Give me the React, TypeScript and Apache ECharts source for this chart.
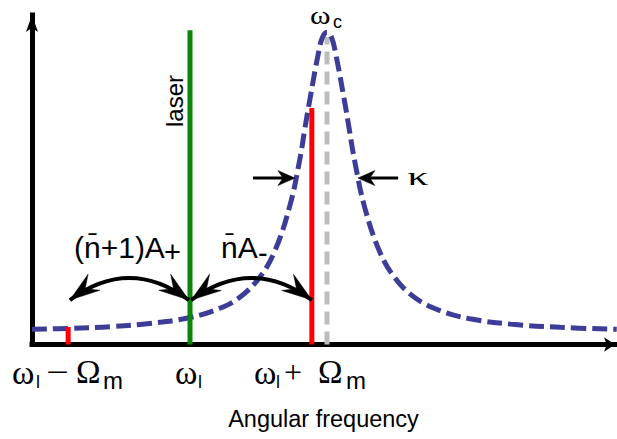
import React, { useEffect, useRef } from 'react';
import * as echarts from 'echarts';

// Cavity (Lorentzian) response: frequency (arb. units) vs. response (arb. units)
const frequency = [0, 6.5, 13.4, 20.2, 27.1, 32.2, 35.7, 39.1, 41.7, 44.3, 46.0, 46.8, 47.7, 49.1, 49.8, 50.6, 51.4, 52.1, 53.7, 54.4, 55.4, 57.1, 59.7, 62.3, 65.7, 70.0, 75.1, 82.0, 90.6, 100.3];
const response = [4.6, 4.9, 5.4, 6.4, 8.2, 11.0, 14.4, 20.5, 28.6, 42.6, 56.8, 65.5, 74.7, 88.2, 93.1, 94.8, 93.1, 88.2, 72.9, 65.5, 55.2, 41.4, 27.9, 20.1, 14.2, 10.3, 7.8, 6.2, 5.2, 4.6];

// Vertical markers: lower sideband, laser, upper sideband, cavity resonance
const markerNames = ['ωl − Ωm', 'ωl', 'ωl + Ωm', 'ωc'];
const markerFrequency = [6.2, 27.1, 48.0, 50.6];
const markerHeight = [5.3, 95.4, 71.8, 93.3];

// Annotation arrows (data coordinates)
const scatterArrowY = 13.5;
const scatterArrowX = [[6.5, 26.9], [27.3, 48.0]];
const kappaArrowY = 50.5;
const kappaArrowX = [[37.9, 45.1], [62.8, 55.9]];

const SERIF = '"Liberation Serif", "Times New Roman", serif';
const SANS = '"Liberation Sans", Arial, Helvetica, sans-serif';

function txt(text: string, x: number, y: number, size: number, family: string, extra: any = {}) {
  const { align, lineHeight, ...rest } = extra;
  const style: any = {
    text,
    fontSize: size,
    fontFamily: family,
    fill: '#000',
    align: align || 'left',
    textAlign: align || 'left',
    verticalAlign: 'middle',
    textVerticalAlign: 'middle',
  };
  if (lineHeight) style.lineHeight = lineHeight;
  return { type: 'text', x, y, silent: true, z: 100, ...rest, style };
}

export default function App() {
  const ref = useRef<HTMLDivElement>(null);

  useEffect(() => {
    const chart = echarts.init(ref.current!, null, { renderer: 'svg' });

    const vline = (i: number, color: string, dashed: boolean, z: number) => ({
      type: 'line',
      name: markerNames[i],
      data: [
        [markerFrequency[i], 0],
        [markerFrequency[i], markerHeight[i]],
      ],
      showSymbol: false,
      symbol: 'none',
      silent: true,
      z,
      lineStyle: { color, width: 5, type: dashed ? [13, 7] : 'solid', cap: 'butt' },
    });

    chart.setOption({
      animation: false,
      grid: { left: 32, right: 2, top: 15, bottom: 94.5, containLabel: false, outerBoundsMode: 'none' },
      xAxis: {
        type: 'value',
        min: 0,
        max: 100,
        name: 'Angular frequency',
        nameLocation: 'middle',
        nameGap: 62,
        nameTextStyle: { fontFamily: SANS, fontSize: 23.5, color: '#000' },
        axisLine: {
          show: true,
          symbol: ['none', 'arrow'],
          symbolSize: [11, 11],
          lineStyle: { color: '#000', width: 5, cap: 'square' },
        },
        axisTick: { show: false },
        axisLabel: { show: false },
        splitLine: { show: false },
      },
      yAxis: {
        type: 'value',
        min: 0,
        max: 100,
        axisLine: {
          show: true,
          symbol: ['none', 'arrow'],
          symbolSize: [9, 17],
          lineStyle: { color: '#000', width: 5, cap: 'square' },
        },
        axisTick: { show: false },
        axisLabel: { show: false },
        splitLine: { show: false },
      },
      series: [
        vline(3, '#bdbdbd', true, 1),
        {
          type: 'line',
          name: 'cavity',
          data: frequency.map((f, i) => [f, response[i]]),
          smooth: 0.4,
          showSymbol: false,
          symbol: 'none',
          clip: false,
          silent: true,
          z: 2,
          lineStyle: { color: '#3d3d99', width: 5, type: [15, 6], cap: 'butt' },
        },
        vline(1, '#0a870a', false, 3),
        vline(0, '#ff0000', false, 3),
        vline(2, '#ff0000', false, 3),
      ],
    });

    const px = (x: number, y: number) => chart.convertToPixel({ gridIndex: 0 }, [x, y]) as number[];

    const head = (tip: number[], from: number[], L: number, W: number, N: number) => {
      const dx = from[0] - tip[0];
      const dy = from[1] - tip[1];
      const len = Math.hypot(dx, dy);
      const ux = dx / len;
      const uy = dy / len;
      const nx = -uy;
      const ny = ux;
      return {
        type: 'polygon',
        silent: true,
        z: 50,
        shape: {
          points: [
            [tip[0], tip[1]],
            [tip[0] + L * ux + W * nx, tip[1] + L * uy + W * ny],
            [tip[0] + N * ux, tip[1] + N * uy],
            [tip[0] + L * ux - W * nx, tip[1] + L * uy - W * ny],
          ],
        },
        style: { fill: '#000', stroke: '#000', lineWidth: 0.5 },
      };
    };

    const elements: any[] = [];

    // curved double arrows
    scatterArrowX.forEach(([a, b]) => {
      const p0 = px(a, scatterArrowY);
      const p2 = px(b, scatterArrowY);
      const bulge = 22;
      const c = [(p0[0] + p2[0]) / 2, (p0[1] + p2[1]) / 2 - 2 * bulge];
      elements.push({
        type: 'bezierCurve',
        silent: true,
        z: 49,
        shape: { x1: p0[0], y1: p0[1], x2: p2[0], y2: p2[1], cpx1: c[0], cpy1: c[1] },
        style: { stroke: '#000', lineWidth: 4, fill: 'none' },
      });
      elements.push(head(p0, c, 30, 10, 19));
      elements.push(head(p2, c, 30, 10, 19));
    });

    // kappa arrows
    kappaArrowX.forEach(([tail, tip]) => {
      const pt = px(tail, kappaArrowY);
      const pp = px(tip, kappaArrowY);
      elements.push({
        type: 'line',
        silent: true,
        z: 49,
        shape: { x1: pt[0], y1: pt[1], x2: pp[0] - Math.sign(pp[0] - pt[0]) * 8, y2: pp[1] },
        style: { stroke: '#000', lineWidth: 3 },
      });
      elements.push(head(pp, pt, 17, 7.5, 12));
    });

    // labels
    elements.push(
      // omega_c
      txt('ω', 310, 14.5, 26, SERIF, { scaleX: 1.2 }),
      txt('c', 333, 22, 18, SANS),
      // laser
      txt('laser', 174, 101, 24, SANS, { rotation: Math.PI / 2, align: 'center' }),
      // (n+1)A+
      txt('(n\u0304+1)A', 74, 247, 30, SANS),
      txt('+', 164, 251.5, 29, SANS),
      // nA-
      txt('n\u0304A', 221, 247, 30, SANS),
      txt('-', 258, 253, 29, SANS),
      // kappa
      txt('κ', 418, 176, 26, SERIF, { align: 'center', scaleX: 1.6 }),
      // omega_l - Omega_m
      txt('ω', 12, 372, 34, SERIF),
      txt('l', 36, 382, 18, SANS),
      txt('−', 46, 372, 32, SERIF, { scaleX: 1.25 }),
      txt('Ω', 76, 372, 33, SERIF),
      txt('m', 103, 380, 24, SANS),
      // omega_l
      txt('ω', 175, 372, 34, SERIF),
      txt('l', 198, 382, 18, SANS),
      // omega_l + Omega_m
      txt('ω', 254, 372, 34, SERIF),
      txt('l', 276, 382, 18, SANS),
      txt('+', 284, 372, 32, SERIF),
      txt('Ω', 318, 372, 33, SERIF),
      txt('m', 346, 380, 24, SANS)
    );

    chart.setOption({ graphic: { elements } });

    return () => chart.dispose();
  }, []);

  return (
    <div
      ref={ref}
      style={{ position: 'fixed', left: 0, top: 0, width: 617, height: 439, background: '#fff' }}
    />
  );
}
